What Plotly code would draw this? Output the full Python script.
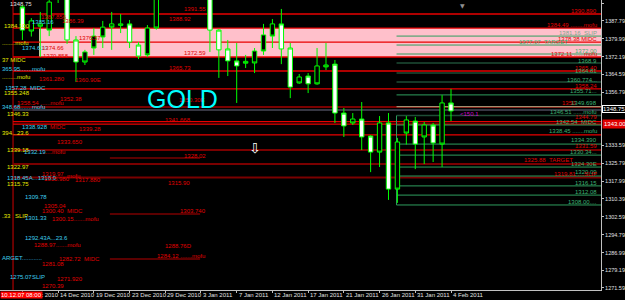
import plotly.graph_objects as go

# ---------------- data ----------------
bar_idx = list(range(0, 16)) + list(range(21, 49))
opens  = [1383.8,1387.8,1386.5,1396.0,1402.0,1379.5,1369.9,1374.3,1381.2,1385.1,1386.5,1386.5,1378.6,1372.5,1384.7,1399.0,
          1383.8,1375.2,1370.4,1368.2,1370.2,1374.7,1381.7,1386.5,1375.6,1359.0,1363.4,1360.4,1368.2,1368.6,
          1347.7,1342.1,1345.1,1337.3,1330.7,1343.4,1314.6,1335.1,1344.7,1334.2,1342.5,1334.7,1352.1,1348.6]
highs  = [1394.7,1389.0,1391.7,1397.5,1408.0,1400.0,1381.2,1375.2,1384.7,1387.8,1391.7,1390.8,1388.2,1378.6,1386.0,1401.0,
          1400.0,1384.2,1379.5,1378.2,1373.0,1376.0,1386.5,1388.6,1393.0,1378.2,1364.7,1365.1,1376.0,1378.2,
          1370.8,1349.9,1347.7,1352.5,1338.1,1346.4,1347.7,1336.9,1346.4,1346.0,1343.8,1343.4,1355.5,1358.2]
lows   = [1379.5,1381.0,1372.1,1381.2,1395.6,1377.8,1361.2,1368.6,1373.0,1376.0,1375.2,1382.5,1376.0,1371.2,1372.1,1384.0,
          1374.3,1363.0,1363.8,1352.1,1367.3,1365.1,1373.0,1376.0,1369.0,1354.2,1360.4,1356.4,1360.0,1366.4,
          1343.4,1337.3,1342.5,1331.6,1322.0,1324.2,1309.9,1308.6,1334.0,1323.3,1325.5,1326.4,1324.2,1344.2]
closes = [1393.9,1383.4,1385.5,1383.8,1405.0,1398.0,1379.5,1369.9,1376.0,1380.8,1385.1,1385.9,1386.5,1377.3,1373.0,1384.7,
          1398.0,1383.8,1375.6,1370.4,1369.4,1369.5,1374.7,1381.2,1386.5,1376.0,1360.8,1363.8,1360.4,1367.8,
          1369.0,1347.7,1343.4,1345.1,1337.7,1330.7,1343.4,1314.6,1339.0,1344.2,1337.3,1342.5,1334.2,1352.1]

tick_idx = [0, 4, 8, 12, 16, 20, 24, 28, 32, 36, 40, 44, 48]
tick_txt = ["10 Dec 2010", "14 Dec 2010", "19 Dec 2010", "23 Dec 2010", "29 Dec 2010", "3 Jan 2011",
            "7 Jan 2011", "12 Jan 2011", "17 Jan 2011", "21 Jan 2011", "26 Jan 2011", "31 Jan 2011", "4 Feb 2011"]

price_ticks = [1395.59, 1387.79, 1379.99, 1372.19, 1364.59, 1356.79, 1333.59, 1325.79,
               1317.99, 1310.39, 1302.59, 1294.79, 1286.99, 1279.19, 1271.59]

zone_low, zone_high = 1372.1, 1384.7

red_levels = [1390.8, 1384.7, 1378.6, 1372.1, 1366.0, 1358.2, 1344.0, 1342.9, 1338.2]
darkred_levels = [1350.3, 1331.6, 1325.5, 1319.7]
grey_levels = [1349.0]
partial_levels = [1328.1, 1303.8, 1284.2]
green_levels = [1381.2, 1377.3, 1373.4, 1355.6, 1342.5, 1334.2, 1329.4, 1324.2, 1320.3, 1316.0, 1312.0, 1307.7]
darkgreen_levels = [1369.5, 1365.1, 1361.2, 1346.6]
bid_level = 1350.5

Y, C, R, W = "#E8E800", "#3FD0F0", "#E00000", "#E0E0E0"
G, G2, M = "#3CB371", "#80A890", "#D000D0"

left_labels = [
    ("1348.75", -1.6, 1395.2, W), ("1384.100", -2.3, 1385.6, Y), ("1385.16", 0.85, 1387.3, C),
    ("1387.856", 1.9, 1389.5, R), ("1386.39", 4.2, 1387.8, R), ("........mofu", -2.5, 1378.2, Y),
    ("1374.610", -0.3, 1376.0, C), ("1374.66", 2.0, 1376.0, R), ("1370.858", 2.1, 1372.5, R),
    ("1376.57", 6.1, 1380.4, R), ("1372.59", 17.9, 1373.8, R), ("1388.92", 16.2, 1388.6, R),
    ("1391.55", 17.9, 1393.0, R), ("37 MIDC", -2.5, 1370.8, Y), ("365.95.......mofu", -2.5, 1366.9, C),
    (".........mofu", -2.5, 1363.4, Y), ("1365.73", 16.2, 1367.3, R), ("1361.280", 1.6, 1362.5, R),
    ("1360.90E", 5.7, 1362.1, R), ("1357.28  MIDC", -2.2, 1358.6, C), ("1355.248", -2.3, 1356.4, Y),
    ("1358.54 ......mofu", -0.8, 1352.1, R), ("1352.38", 4.0, 1353.8, R), ("1350.30E", 17.3, 1353.4, R),
    ("348.68.......mofu", -2.5, 1350.3, C), ("1346.33", -1.95, 1347.3, Y), ("1341.668", 15.7, 1344.7, R),
    ("1339.28", 6.1, 1340.8, R), ("1338.928", -0.3, 1341.6, C), ("MIDC", 2.9, 1341.6, R),
    ("394...23.6", -2.5, 1339.0, Y), ("1333.650", 3.65, 1335.1, R), ("1339.18", -1.95, 1331.6, Y),
    ("1332.19", 0.0, 1330.8, C), ("......mofu", 2.0, 1330.8, R), ("1328.02", 17.9, 1329.0, R),
    ("1322.97", -1.95, 1324.2, Y), ("1318.45A...1318.9", -1.95, 1319.4, C), ("1319.97", 2.0, 1321.2, R),
    ("1315.980", 2.2, 1319.0, R), ("mofu", 4.8, 1320.4, R), ("1317.880", 5.7, 1318.6, R),
    ("1315.75", -1.95, 1316.8, Y), ("1315.90", 16.1, 1317.3, R), ("1309.78", 0.1, 1311.2, C),
    ("1305.04", 2.2, 1307.3, R), ("1300.40  MIDC", 2.0, 1305.1, R), (".33", -2.5, 1302.9, Y),
    ("SLIP", -1.05, 1302.9, Y), ("1301.33", 0.1, 1302.0, C), ("1300.15.......mofu", 3.1, 1301.6, R),
    ("1303.740", 17.4, 1305.1, R), ("1292.43A...23.6", 0.1, 1293.3, C), ("1288.97.......mofu", 1.1, 1290.3, R),
    ("1288.76D", 15.7, 1289.8, R), ("ARGET............", -2.5, 1284.6, C), ("1282.72  MIDC", 3.9, 1284.2, R),
    ("1284.12 .......mofu", 14.85, 1285.5, R), ("1281.08", 2.0, 1282.0, R), ("1275.07", -1.6, 1276.3, C),
    ("SLIP", 0.85, 1276.3, C), ("1271.920", 3.65, 1275.5, R), ("1270.39", 2.0, 1272.3, R),
]

right_labels = [
    ("1390.890", 64.6, 1392.1, R), ("1384.49 ........mofu", 64.6, 1386.0, R), ("1381.16  SLIP", 64.6, 1382.5, G2),
    ("1378.38 MIDC", 64.6, 1379.9, R), ("1377.07  TARGET", 61.3, 1378.6, G), ("1372.00", 64.6, 1374.7, G),
    ("1372.11 ......mofu", 64.6, 1373.4, R), ("1368.9", 64.6, 1370.4, G), ("1365.40", 64.6, 1367.3, R),
    ("1364.81", 64.6, 1366.2, G), ("1360.774...", 64.6, 1362.1, G), ("1358.24", 64.6, 1359.5, R),
    ("1355.71...", 64.6, 1357.3, G), ("1350", 62.2, 1352.1, R), ("1349.698", 64.6, 1352.1, G),
    ("1346.51 ......mofu", 64.6, 1348.2, G), ("1344.79", 64.6, 1346.0, R), ("1342.54  MIDC", 64.6, 1343.8, G),
    ("1338.45 .......mofu", 64.6, 1339.9, G), ("1334.390", 64.6, 1336.0, G), ("1331.59", 64.6, 1333.4, R),
    ("1330.34...", 64.6, 1330.8, G), ("1325.88  TARGET", 61.9, 1327.3, R), ("1324.30E", 64.6, 1325.5, G),
    ("1320.09", 64.6, 1322.0, G), ("1319.81 ....SLIP", 64.6, 1321.2, R), ("1316.15", 64.6, 1317.3, G),
    ("1312.08", 64.6, 1313.3, G), ("1308.00....", 64.6, 1309.0, G),
]

# ---------------- figure ----------------
X0, X1 = -2.51, 64.8
Y0, Y1 = 1270.7, 1396.9
FONT = "Liberation Sans, Arial, sans-serif"

fig = go.Figure()
fig.add_trace(go.Candlestick(
    x=bar_idx, open=opens, high=highs, low=lows, close=closes,
    increasing=dict(line=dict(color="#00FF00", width=1), fillcolor="#FFFFFF"),
    decreasing=dict(line=dict(color="#00FF00", width=1), fillcolor="#000000"),
    whiskerwidth=0, hoverinfo="skip"))

shapes = []
shapes.append(dict(type="rect", xref="x", yref="y", x0=1.86, x1=X1, y0=zone_low, y1=zone_high,
                   fillcolor="#FFC0CB", line=dict(width=0), layer="below"))
for p in red_levels:
    shapes.append(dict(type="line", xref="x", yref="y", x0=-1.05, x1=X1, y0=p, y1=p,
                       line=dict(color="#E80000", width=1.3), layer="below"))
for p in darkred_levels:
    shapes.append(dict(type="line", xref="x", yref="y", x0=-1.05, x1=X1, y0=p, y1=p,
                       line=dict(color="#7A0000", width=2), layer="below"))
for p in grey_levels:
    shapes.append(dict(type="line", xref="x", yref="y", x0=-1.05, x1=X1, y0=p, y1=p,
                       line=dict(color="#4A4A5A", width=1.5), layer="below"))
for p in partial_levels:
    shapes.append(dict(type="line", xref="x", yref="y", x0=9.8, x1=19.9, y0=p, y1=p,
                       line=dict(color="#7A0000", width=1.5), layer="below"))
for p in green_levels:
    shapes.append(dict(type="line", xref="x", yref="y", x0=41.9, x1=X1, y0=p, y1=p,
                       line=dict(color="#2E9E5E", width=1), layer="below"))
for p in darkgreen_levels:
    shapes.append(dict(type="line", xref="x", yref="y", x0=41.9, x1=X1, y0=p, y1=p,
                       line=dict(color="#1E4E36", width=1.5), layer="below"))
shapes.append(dict(type="line", xref="x", yref="y", x0=41.9, x1=X1, y0=bid_level, y1=bid_level,
                   line=dict(color="#A09070", width=1.2), layer="below"))
shapes.append(dict(type="line", xref="x", yref="y", x0=41.9, x1=41.9, y0=min(green_levels), y1=darkgreen_levels[-1],
                   line=dict(color="#2E9E5E", width=1), layer="below"))
shapes.append(dict(type="line", xref="x", yref="paper", x0=-1.05, x1=-1.05, y0=0, y1=1,
                   line=dict(color="#8B0000", width=1.5), layer="below"))

ann = []
for t, x, y, c in left_labels:
    ann.append(dict(text=t, x=x, y=y, xref="x", yref="y", xanchor="left", yanchor="middle",
                    showarrow=False, font=dict(size=6, color=c, family=FONT)))
for t, x, y, c in right_labels:
    ann.append(dict(text=t, x=x, y=y, xref="x", yref="y", xanchor="right", yanchor="middle",
                    showarrow=False, font=dict(size=6, color=c, family=FONT)))
# date labels on the time axis, written to the right of each tick as in the terminal
for i, t in zip(tick_idx, tick_txt):
    ann.append(dict(text=t, x=i, y=0, xref="x", yref="paper", xanchor="left", yanchor="top",
                    xshift=1, yshift=-1, showarrow=False, borderpad=0,
                    font=dict(size=6, color="#E0E0E0", family=FONT)))
ann.append(dict(text="<150.1", x=48.8, y=1347.3, xref="x", yref="y", xanchor="left", showarrow=False,
                font=dict(size=6, color=M, family=FONT)))
ann.append(dict(text="GOLD", x=17.9, y=1354.0, xref="x", yref="y", showarrow=False,
                font=dict(size=25, color="#00FFFF", family=FONT)))
ann.append(dict(text="⇩", x=26.0, y=1332.5, xref="x", yref="y", showarrow=False,
                font=dict(size=14, color="#FFFFFF", family="DejaVu Sans")))
ann.append(dict(text="1348.75", x=1.0, y=1349.4, xref="paper", yref="y", xanchor="left", xshift=1,
                showarrow=False, font=dict(size=6, color="#FFFFFF", family=FONT),
                bgcolor="#000000", bordercolor="#FFFFFF", borderwidth=1, borderpad=0))
ann.append(dict(text="1343.00", x=1.0, y=1342.9, xref="paper", yref="y", xanchor="left", xshift=1,
                showarrow=False, font=dict(size=6, color="#FFFFFF", family=FONT),
                bgcolor="#E00000", borderpad=1))
ann.append(dict(text="10.12.07 08:00", x=0, y=0, xref="paper", yref="paper", xanchor="left", yanchor="top",
                yshift=-1, showarrow=False, font=dict(size=6, color="#FFFFFF", family=FONT),
                bgcolor="#FF0000", borderpad=0))
ann.append(dict(text="▼", x=49.3, y=1, xref="x", yref="paper", yanchor="top", showarrow=False,
                font=dict(size=6, color="#909090", family="DejaVu Sans")))

fig.update_layout(
    width=625, height=300, margin=dict(l=0, r=24, t=0, b=10),
    paper_bgcolor="#000000", plot_bgcolor="#000000", showlegend=False,
    shapes=shapes, annotations=ann,
    xaxis=dict(range=[X0, X1], rangeslider=dict(visible=False), tickvals=tick_idx, showticklabels=False,
               ticks="outside", ticklen=2, tickcolor="#C0C0C0", showgrid=False, zeroline=False,
               showline=True, linecolor="#C0C0C0", linewidth=1, mirror=True, automargin=False),
    yaxis=dict(range=[Y0, Y1], side="right", tickvals=price_ticks, ticktext=[f"{v:.2f}" for v in price_ticks],
               ticks="outside", ticklen=2, tickcolor="#C0C0C0",
               tickfont=dict(size=5.5, color="#E0E0E0", family=FONT), showgrid=False, zeroline=False,
               showline=True, linecolor="#C0C0C0", linewidth=1, automargin=False),
)

fig.write_html("out.html")
